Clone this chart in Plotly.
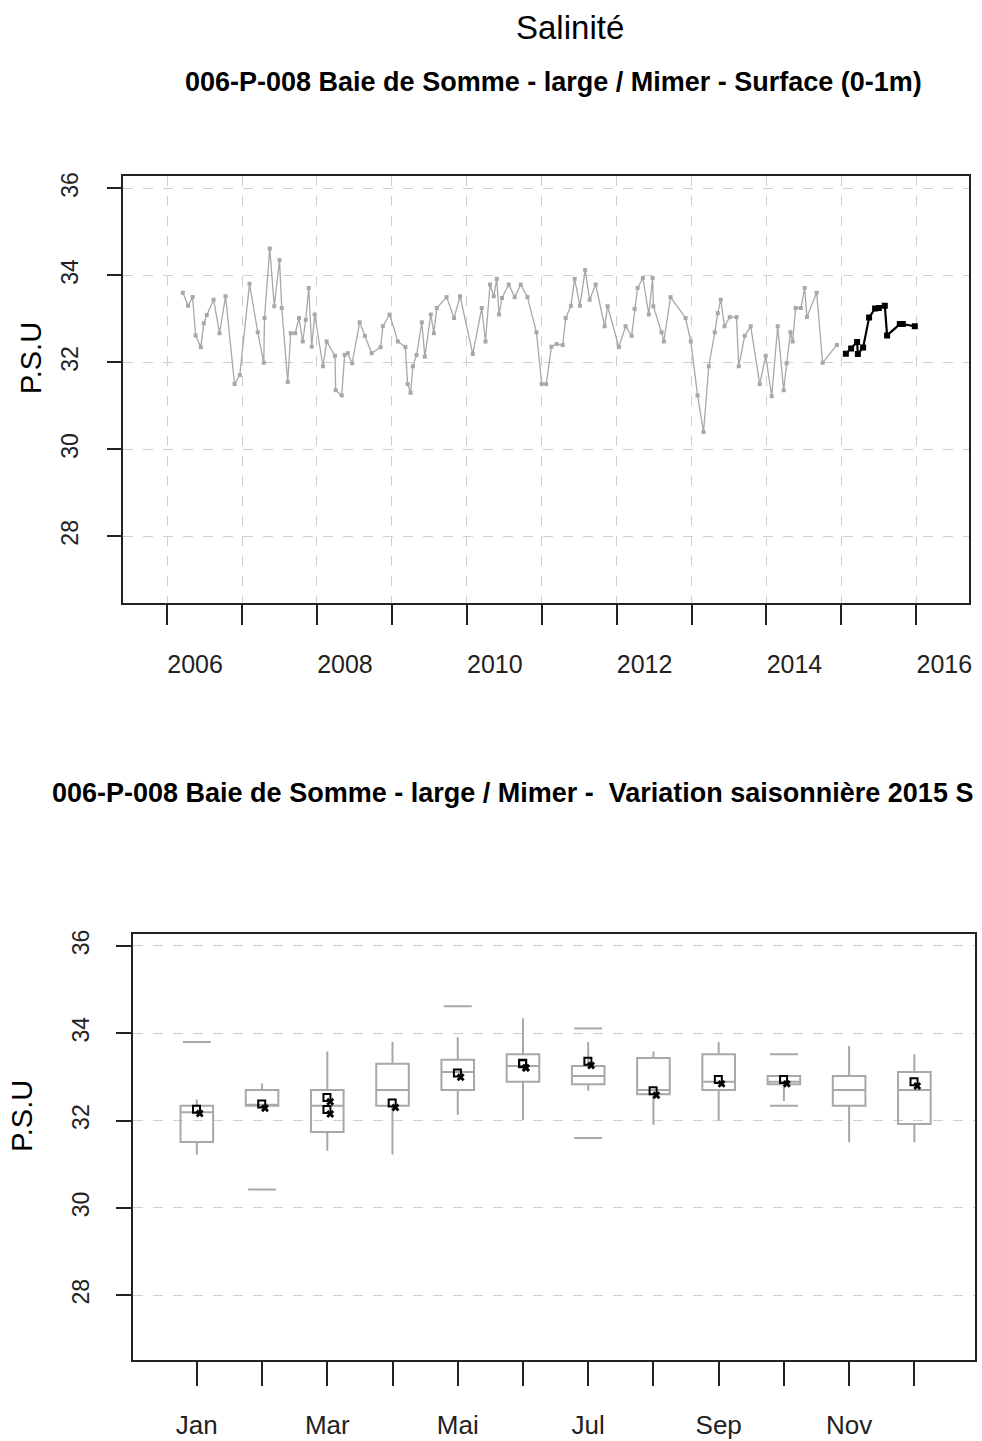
import plotly.graph_objects as go

# ---------------- data: time series (decimal year, P.S.U) ----------------
hist_years = [
    2006.21, 2006.28, 2006.34, 2006.38, 2006.45, 2006.49, 2006.53, 2006.62, 2006.70, 2006.78,
    2006.90, 2006.97, 2007.10, 2007.21, 2007.29, 2007.30, 2007.37, 2007.43, 2007.50, 2007.53,
    2007.61, 2007.65, 2007.71, 2007.76, 2007.81, 2007.85, 2007.89, 2007.93, 2007.97, 2008.08,
    2008.13, 2008.24, 2008.25, 2008.33, 2008.37, 2008.41, 2008.47, 2008.57, 2008.64, 2008.73,
    2008.85, 2008.88, 2008.97, 2009.08, 2009.18, 2009.21, 2009.25, 2009.28, 2009.33, 2009.40,
    2009.44, 2009.52, 2009.56, 2009.60, 2009.73, 2009.83, 2009.91, 2010.08, 2010.20, 2010.25,
    2010.31, 2010.36, 2010.40, 2010.43, 2010.47, 2010.56, 2010.64, 2010.72, 2010.81, 2010.93,
    2011.00, 2011.06, 2011.13, 2011.20, 2011.28, 2011.32, 2011.39, 2011.44, 2011.51, 2011.58,
    2011.64, 2011.72, 2011.84, 2011.88, 2012.03, 2012.12, 2012.20, 2012.24, 2012.28, 2012.35,
    2012.43, 2012.48, 2012.49, 2012.60, 2012.63, 2012.72, 2012.92, 2012.99, 2013.08, 2013.16,
    2013.23, 2013.31, 2013.35, 2013.39, 2013.44, 2013.51, 2013.60, 2013.63, 2013.71, 2013.79,
    2013.91, 2013.99, 2014.07, 2014.15, 2014.23, 2014.27, 2014.32, 2014.35, 2014.39, 2014.46,
    2014.51, 2014.54, 2014.67, 2014.75, 2014.94,
]
hist_psu = [
    33.60, 33.30, 33.50, 32.62, 32.35, 32.90, 33.09, 33.44, 32.67, 33.52,
    31.50, 31.71, 33.81, 32.69, 31.99, 33.02, 34.62, 33.29, 34.35, 33.25,
    31.55, 32.67, 32.67, 33.02, 32.48, 32.98, 33.71, 32.36, 33.10, 31.91,
    32.48, 32.15, 31.36, 31.24, 32.17, 32.21, 31.98, 32.92, 32.61, 32.21,
    32.35, 32.83, 33.10, 32.48, 32.35, 31.50, 31.30, 31.91, 32.17, 32.92,
    32.13, 33.10, 32.67, 33.25, 33.50, 33.02, 33.52, 32.19, 33.25, 32.48,
    33.79, 33.52, 33.92, 33.10, 33.48, 33.79, 33.50, 33.79, 33.50, 32.69,
    31.50, 31.50, 32.36, 32.42, 32.40, 33.02, 33.30, 33.92, 33.30, 34.12,
    33.44, 33.79, 32.83, 33.29, 32.35, 32.83, 32.61, 33.23, 33.71, 33.94,
    33.10, 33.94, 33.29, 32.69, 32.48, 33.50, 33.02, 32.48, 31.24, 30.40,
    31.91, 32.69, 33.13, 33.44, 32.83, 33.04, 33.04, 31.91, 32.61, 32.83,
    31.50, 32.15, 31.22, 32.83, 31.36, 31.98, 32.69, 32.48, 33.25, 33.25,
    33.71, 33.04, 33.60, 31.99, 32.40,
]
y2015_years = [2015.06, 2015.13, 2015.21, 2015.22, 2015.29, 2015.37, 2015.45, 2015.50,
               2015.58, 2015.61, 2015.78, 2015.82, 2015.98]
y2015_psu = [32.20, 32.32, 32.47, 32.19, 32.34, 33.03, 33.24, 33.25,
             33.30, 32.62, 32.88, 32.88, 32.83]

year_ticks = list(range(2006, 2017))
year_labels = [str(y) if y % 2 == 0 else "" for y in year_ticks]
psu_ticks = [28, 30, 32, 34, 36]

# ---------------- data: seasonal box plot ----------------
months = list(range(1, 13))
month_labels = ["Jan", "", "Mar", "", "Mai", "", "Jul", "", "Sep", "", "Nov", ""]
box_lo = [31.22, 32.34, 31.31, 31.22, 32.13, 32.01, 32.68, 31.90, 32.00, 32.45, 31.50, 31.50]
box_q1 = [31.51, 32.34, 31.74, 32.34, 32.70, 32.89, 32.83, 32.60, 32.70, 32.83, 32.34, 31.92]
box_med = [32.19, 32.36, 32.34, 32.70, 33.11, 33.25, 33.02, 32.70, 32.89, 32.89, 32.70, 32.70]
box_q3 = [32.34, 32.70, 32.70, 33.30, 33.39, 33.52, 33.25, 33.43, 33.52, 33.02, 33.02, 33.11]
box_hi = [32.48, 32.85, 33.58, 33.80, 33.91, 34.34, 33.80, 33.58, 33.80, 33.02, 33.71, 33.52]
out_month = [1, 2, 5, 7, 7, 10, 10]
out_psu = [33.80, 30.42, 34.62, 34.11, 31.60, 33.52, 32.34]
pts_month = [1, 2, 3, 3, 4, 5, 6, 6, 7, 8, 9, 10, 12]
pts_psu = [32.20, 32.32, 32.47, 32.19, 32.34, 33.03, 33.24, 33.25, 33.30, 32.62, 32.88, 32.88, 32.83]

W, H = 982, 1441
GRAY = "#a8a8a8"
FONT = "Liberation Sans, Arial, sans-serif"


def px_x(p):
    return p / W


def px_y(p):
    return 1 - p / H


fig = go.Figure()

fig.add_trace(go.Scatter(
    x=hist_years, y=hist_psu, mode="lines+markers",
    line=dict(color=GRAY, width=1.3),
    marker=dict(symbol="square", size=4, color=GRAY),
    xaxis="x", yaxis="y", showlegend=False, hoverinfo="skip"))
fig.add_trace(go.Scatter(
    x=y2015_years, y=y2015_psu, mode="lines+markers",
    line=dict(color="black", width=2.2),
    marker=dict(symbol="square", size=6, color="black"),
    xaxis="x", yaxis="y", showlegend=False, hoverinfo="skip"))

fig.add_trace(go.Box(
    x=months, q1=box_q1, median=box_med, q3=box_q3,
    lowerfence=box_lo, upperfence=box_hi,
    width=0.5, whiskerwidth=0, boxpoints=False,
    line=dict(color=GRAY, width=2), fillcolor="rgba(255,255,255,0)",
    xaxis="x2", yaxis="y2", showlegend=False, hoverinfo="skip"))
fig.add_trace(go.Scatter(
    x=out_month, y=out_psu, mode="markers",
    marker=dict(symbol="line-ew", size=20, line=dict(color=GRAY, width=2)),
    xaxis="x2", yaxis="y2", showlegend=False, hoverinfo="skip"))
fig.add_trace(go.Scatter(
    x=[m - 0.005 for m in pts_month], y=[v + 0.06 for v in pts_psu], mode="markers",
    marker=dict(symbol="square-open", size=7, color="black", line=dict(width=2)),
    xaxis="x2", yaxis="y2", showlegend=False, hoverinfo="skip"))
fig.add_trace(go.Scatter(
    x=[m + 0.045 for m in pts_month], y=[v - 0.04 for v in pts_psu], mode="markers",
    marker=dict(symbol="x", size=7, color="black"),
    xaxis="x2", yaxis="y2", showlegend=False, hoverinfo="skip"))

axis_common = dict(
    showline=True, mirror=True, linecolor="#222", linewidth=2,
    ticks="outside", tickcolor="#222", tickwidth=1.5,
    zeroline=False, gridcolor="#cfcfcf", gridwidth=1.3, griddash="10px,10px",
)


def note(text, x, y, size, angle=0, xanchor="center"):
    return dict(text=text, x=px_x(x), y=px_y(y), xref="paper", yref="paper",
                xanchor=xanchor, yanchor="middle", textangle=angle,
                showarrow=False, font=dict(size=size, color="black"))


fig.update_layout(
    width=W, height=H, autosize=False,
    margin=dict(l=0, r=0, t=0, b=0),
    paper_bgcolor="white", plot_bgcolor="white",
    font=dict(family=FONT, color="#222"),
    xaxis=dict(
        **axis_common, domain=[px_x(123.3), px_x(971.7)], range=[2005.41, 2016.70],
        tickvals=year_ticks, ticktext=year_labels, ticklen=20,
        tickfont=dict(size=25), ticklabelshift=28, ticklabelstandoff=18,
        showgrid=True, anchor="y"),
    yaxis=dict(
        **axis_common, domain=[px_y(600.5), px_y(172.7)], range=[26.47, 36.28],
        tickvals=psu_ticks, ticktext=[str(t) for t in psu_ticks], ticklen=14,
        tickangle=-90, tickfont=dict(size=23), ticklabelstandoff=20,
        showgrid=True, anchor="x"),
    xaxis2=dict(
        **axis_common, domain=[px_x(133.3), px_x(978)], range=[0.02, 12.93],
        tickvals=months, ticktext=month_labels, ticklen=24,
        tickfont=dict(size=26), ticklabelstandoff=17,
        showgrid=False, anchor="y2"),
    yaxis2=dict(
        **axis_common, domain=[px_y(1360), px_y(932.7)], range=[26.51, 36.27],
        tickvals=psu_ticks, ticktext=[str(t) for t in psu_ticks], ticklen=15,
        tickangle=-90, tickfont=dict(size=23), ticklabelstandoff=18,
        showgrid=True, anchor="x2"),
    annotations=[
        note("Salinité", 572, 24, 33),
        note("<b>006-P-008 Baie de Somme - large / Mimer - Surface (0-1m)</b>", 555, 78, 27),
        note("<b>006-P-008 Baie de Somme - large / Mimer -  Variation saisonnière 2015 S</b>",
             50, 791, 27, xanchor="left"),
        note("P.S.U", 31, 355, 29, angle=-90),
        note("P.S.U", 22, 1115, 29, angle=-90),
    ],
)

fig.write_html("out.html", config={"displayModeBar": False},
               post_script="document.body.style.margin='0';")
